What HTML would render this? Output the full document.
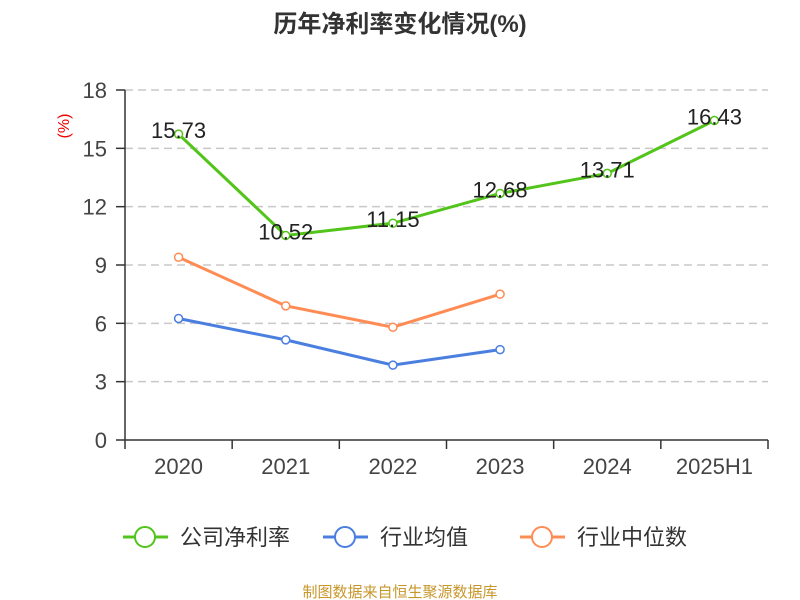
<!DOCTYPE html>
<html><head><meta charset="utf-8"><style>
body{margin:0;background:#fff;}
svg{display:block;font-family:"Liberation Sans","Noto Sans CJK SC",sans-serif;}
</style></head><body>
<svg id="c" width="800" height="600">
<text x="400" y="32" text-anchor="middle" font-size="24" font-weight="bold" fill="#333">历年净利率变化情况(%)</text>
<text x="0" y="0" transform="translate(69,126) rotate(-90)" text-anchor="middle" font-size="16" fill="#e00">(%)</text>
<g id="grid"></g><g id="axes"></g><g id="series"></g>
<g>
<g><line x1="123" y1="537" x2="168" y2="537" stroke="#52c41a" stroke-width="3"/><circle cx="145" cy="537" r="10" fill="#fff" stroke="#52c41a" stroke-width="2"/><text x="180" y="545" font-size="22" fill="#333">公司净利率</text></g>
<g><line x1="323" y1="537" x2="368" y2="537" stroke="#4a7fe0" stroke-width="3"/><circle cx="345" cy="537" r="10" fill="#fff" stroke="#4a7fe0" stroke-width="2"/><text x="380" y="545" font-size="22" fill="#333">行业均值</text></g>
<g><line x1="520" y1="537" x2="565" y2="537" stroke="#ff8c55" stroke-width="3"/><circle cx="542" cy="537" r="10" fill="#fff" stroke="#ff8c55" stroke-width="2"/><text x="577" y="545" font-size="22" fill="#333">行业中位数</text></g>
</g>
<text x="400" y="597" text-anchor="middle" font-size="15" fill="#c8962a">制图数据来自恒生聚源数据库</text>
</svg>
<script>
const categories=["2020","2021","2022","2023","2024","2025H1"];
const company=[15.73,10.52,11.15,12.68,13.71,16.43];
const industryAvg=[6.25,5.15,3.85,4.65];
const industryMedian=[9.4,6.9,5.8,7.5];
const yTicks=[0,3,6,9,12,15,18];
const NS="http://www.w3.org/2000/svg";
const L=125,R=768,T=90,B=440,yMax=18;
const bw=(R-L)/categories.length;
const x=i=>L+bw*(i+0.5);
const y=v=>B-(v/yMax)*(B-T);
function mk(tag,attrs,parent,text){const e=document.createElementNS(NS,tag);for(const k in attrs)e.setAttribute(k,attrs[k]);if(text!==undefined)e.textContent=text;parent.appendChild(e);return e;}
const grid=document.getElementById('grid'),axes=document.getElementById('axes'),ser=document.getElementById('series');
yTicks.forEach(t=>{
 if(t>0){const g=mk('line',{x1:L,x2:R,y1:y(t),y2:y(t),stroke:'#c8c8c8','stroke-width':1.5,'stroke-dasharray':'8,5'},grid);
 }
 const tk=mk('line',{x1:L-9,x2:L,y1:y(t),y2:y(t),stroke:'#333','stroke-width':1.5},axes);
 
 const lb=mk('text',{x:L-18,y:y(t)+8,'text-anchor':'end','font-size':22,fill:'#444'},axes,String(t));
 
});
const ya=mk('line',{x1:L,x2:L,y1:T,y2:B,stroke:'#333','stroke-width':1.5},axes);

const xa=mk('line',{x1:L,x2:R,y1:B,y2:B,stroke:'#333','stroke-width':1.5},axes);

for(let i=0;i<=categories.length;i++){const tk=mk('line',{x1:L+bw*i,x2:L+bw*i,y1:B,y2:B+9,stroke:'#333','stroke-width':1.5},axes);
 }
categories.forEach((c,i)=>{const t=mk('text',{x:x(i),y:B+34,'text-anchor':'middle','font-size':22,fill:'#444'},axes,c);
 });
function series(vals,color,name,labels){
 const g=mk('g',{},ser);
 const p=mk('polyline',{points:vals.map((v,i)=>x(i)+','+y(v)).join(' '),fill:'none',stroke:color,'stroke-width':3},g);
 
 vals.forEach((v,i)=>{const c=mk('circle',{cx:x(i),cy:y(v),r:4,fill:'#fff',stroke:color,'stroke-width':1.5},g);
  
  if(labels){const t=mk('text',{x:x(i),y:y(v)+4,'text-anchor':'middle','font-size':22,fill:'#222'},g,v.toFixed(2));
   }});
}
series(industryMedian,'#ff8c55','industry-median-series',false);
series(industryAvg,'#4a7fe0','industry-avg-series',false);
series(company,'#52c41a','company-series',true);
</script>
</body></html>
